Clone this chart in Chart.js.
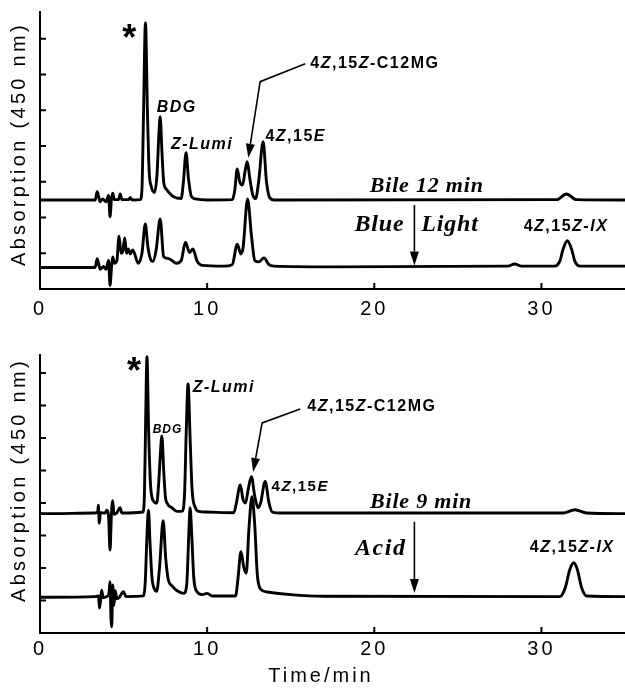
<!doctype html>
<html>

<head>
  <title>Bile HPLC chromatograms</title>
  <script src="https://cdn.jsdelivr.net/npm/chart.js@4.4.0/dist/chart.umd.min.js"></script>
  <style>
    body {
      margin: 0;
      background: #fff;
    }
    canvas {
      position: absolute;
      left: 0;
    }
  </style>
</head>

<body>
  <canvas id="topChart" width="625" height="330" style="top:0"></canvas>
  <canvas id="bottomChart" width="625" height="358" style="top:330px"></canvas>

  <script>
    // retention time (min), absorption (arb. units)
    var bile12 = [
      [0, 2.49], [3.3, 2.49], [3.42, 2.72], [3.5, 2.6], [3.6, 2.44], [3.75, 2.52], [3.95, 2.44],
      [4.1, 2.62], [4.19, 2.02], [4.27, 2.5], [4.35, 2.68], [4.45, 2.5], [4.7, 2.5], [4.8, 2.66],
      [4.9, 2.5], [5.3, 2.5], [5.4, 2.56], [5.5, 2.49], [6.0, 2.5], [6.1, 2.8], [6.19, 4.8],
      [6.31, 7.45], [6.43, 4.9], [6.53, 3.3], [6.65, 2.88], [6.85, 2.7], [7.0, 3.2], [7.1, 4.2],
      [7.19, 4.82], [7.29, 3.9], [7.4, 3.0], [7.58, 2.78], [7.8, 2.66], [8.0, 2.58], [8.45, 2.53],
      [8.58, 3.0], [8.74, 3.81], [8.88, 3.1], [9.05, 2.6], [9.3, 2.52], [10.0, 2.49], [11.5, 2.5],
      [11.65, 2.75], [11.8, 3.36], [11.95, 3.0], [12.12, 2.91], [12.27, 3.3], [12.4, 3.56],
      [12.55, 3.1], [12.72, 2.65], [12.9, 2.53], [13.08, 3.0], [13.35, 4.12], [13.55, 3.0],
      [13.75, 2.55], [14.0, 2.49], [30.9, 2.5], [31.5, 2.66], [32.1, 2.5], [35, 2.49]
    ];
    var blueLight = [
      [0, 0.6], [3.3, 0.6], [3.42, 0.85], [3.5, 0.72], [3.6, 0.55], [3.8, 0.63], [3.95, 0.55],
      [4.1, 0.8], [4.19, 0.1], [4.28, 0.62], [4.35, 0.9], [4.45, 0.72], [4.6, 0.8], [4.73, 1.48],
      [4.85, 1.0], [4.95, 1.05], [5.07, 1.43], [5.18, 1.0], [5.28, 1.12], [5.4, 0.98], [5.55, 1.09],
      [5.88, 0.72], [6.1, 1.0], [6.3, 1.82], [6.45, 1.2], [6.6, 0.85], [6.75, 0.77], [6.95, 1.1],
      [7.19, 1.96], [7.4, 0.9], [7.7, 0.85], [8.15, 0.72], [8.45, 0.8], [8.7, 1.31], [8.95, 1.02],
      [9.15, 1.12], [9.4, 0.78], [9.7, 0.66], [11.0, 0.64], [11.5, 0.68], [11.8, 1.25],
      [12.02, 0.98], [12.15, 1.15], [12.42, 2.52], [12.65, 1.5], [12.85, 0.8], [13.1, 0.76],
      [13.4, 0.87], [13.7, 0.68], [14.0, 0.64], [17.5, 0.62], [28.0, 0.64], [28.4, 0.7],
      [28.8, 0.64], [30.8, 0.64], [31.1, 0.78], [31.3, 1.12], [31.55, 1.35], [31.8, 1.12],
      [32.0, 0.78], [32.3, 0.64], [35, 0.64]
    ];
    var bile9 = [
      [0, 3.67], [3.3, 3.69], [3.45, 3.72], [3.49, 3.93], [3.55, 3.38], [3.62, 3.7], [3.9, 3.69],
      [4.0, 3.78], [4.1, 3.62], [4.19, 2.55], [4.27, 3.6], [4.35, 4.07], [4.43, 3.65], [4.6, 3.7],
      [4.79, 3.85], [4.9, 3.69], [6.15, 3.72], [6.25, 4.3], [6.32, 6.5], [6.4, 8.5], [6.5, 6.2],
      [6.62, 4.5], [6.8, 4.05], [6.98, 3.99], [7.1, 4.6], [7.2, 5.5], [7.29, 6.06], [7.4, 5.0],
      [7.5, 4.2], [7.62, 3.98], [7.9, 3.85], [8.2, 3.74], [8.5, 3.75], [8.65, 4.3], [8.75, 6.2],
      [8.86, 7.66], [8.98, 6.0], [9.1, 4.4], [9.3, 3.85], [9.5, 3.74], [10.0, 3.72], [11.6, 3.7],
      [11.75, 4.0], [11.98, 4.55], [12.15, 4.1], [12.3, 4.0], [12.45, 4.4], [12.65, 4.81],
      [12.85, 4.2], [13.05, 3.85], [13.2, 4.0], [13.47, 4.66], [13.7, 4.0], [13.9, 3.72],
      [14.5, 3.69], [31.3, 3.69], [32.0, 3.79], [32.7, 3.69], [35, 3.67]
    ];
    var acid = [
      [0, 1.1], [3.3, 1.12], [3.5, 1.14], [3.56, 0.77], [3.62, 1.0], [3.69, 1.32], [3.78, 1.08],
      [4.0, 1.12], [4.12, 1.2], [4.19, 1.58], [4.25, 0.4], [4.29, 0.19], [4.35, 1.48], [4.42, 0.85],
      [4.5, 1.3], [4.6, 1.05], [4.75, 1.1], [4.99, 1.27], [5.15, 1.12], [6.2, 1.14], [6.3, 1.6],
      [6.4, 3.0], [6.49, 3.78], [6.58, 2.8], [6.7, 1.7], [6.85, 1.35], [6.98, 1.28], [7.15, 2.0],
      [7.37, 3.45], [7.52, 2.3], [7.68, 1.63], [7.9, 1.45], [8.2, 1.3], [8.6, 1.22], [8.78, 1.5],
      [8.9, 3.0], [8.98, 3.85], [9.08, 3.0], [9.2, 1.7], [9.38, 1.28], [9.7, 1.18], [10.0, 1.22],
      [10.3, 1.14], [11.7, 1.14], [11.85, 1.7], [12.02, 2.5], [12.2, 2.0], [12.34, 1.84],
      [12.5, 3.2], [12.68, 4.19], [12.85, 3.3], [13.0, 1.8], [13.2, 1.35], [13.6, 1.26],
      [15.0, 1.18], [17.0, 1.13], [31.1, 1.12], [31.4, 1.35], [31.7, 1.95], [31.93, 2.16],
      [32.15, 1.95], [32.4, 1.4], [32.7, 1.14], [35, 1.12]
    ];

    var timeTicks = [0, 10, 20, 30];
    var absTicksTop = [1, 2, 3, 4, 5, 6, 7];
    var absTicksBottom = [1, 2, 3, 4, 5, 6, 7, 8];

    var SANS = '"Liberation Sans", Arial, sans-serif';
    var SERIF = '"Liberation Serif", "Times New Roman", serif';

    // peak labels: parts are [text, italic]
    var topLabels = [
      { parts: [['*', 0]], x: 5.39, y: 6.97, size: 36, family: SANS },
      { parts: [['BDG', 1]], x: 8.18, y: 5.08, size: 16, family: SANS },
      { parts: [['Z-Lumi', 1]], x: 9.7, y: 4.03, size: 16, family: SANS },
      { parts: [['4', 0], ['Z', 1], [',15', 0], ['E', 1]], x: 15.3, y: 4.26, size: 16, family: SANS },
      { parts: [['4', 0], ['Z', 1], [',15', 0], ['Z', 1], ['-C12MG', 0]], x: 16.17, y: 6.3, size: 16, family: SANS, align: 'left' },
      { parts: [['Bile 12 min', 1]], x: 23.14, y: 2.86, size: 22, family: SERIF, spacing: 0.8 },
      { parts: [['Blue', 1]], x: 21.8, y: 1.79, size: 24, family: SERIF, align: 'right', spacing: 0.8 },
      { parts: [['Light', 1]], x: 22.81, y: 1.79, size: 24, family: SERIF, align: 'left', spacing: 0.8 },
      { parts: [['4', 0], ['Z', 1], [',15', 0], ['Z', 1], ['-', 0], ['IX', 1]], x: 31.47, y: 1.74, size: 16, family: SANS }
    ];
    var topArrows = [
      [[15.87, 6.3], [13.17, 5.8], [12.46, 3.67]],
      [[22.4, 2.35], [22.4, 0.66]]
    ];
    var bottomLabels = [
      { parts: [['*', 0]], x: 5.67, y: 8.0, size: 36, family: SANS },
      { parts: [['BDG', 1]], x: 7.63, y: 6.25, size: 12, family: SANS, spacing: 1 },
      { parts: [['Z-Lumi', 1]], x: 11.0, y: 7.54, size: 16, family: SANS },
      { parts: [['4', 0], ['Z', 1], [',15', 0], ['E', 1]], x: 15.57, y: 4.48, size: 15, family: SANS },
      { parts: [['4', 0], ['Z', 1], [',15', 0], ['Z', 1], ['-C12MG', 0]], x: 15.99, y: 6.95, size: 16, family: SANS, align: 'left' },
      { parts: [['Bile 9 min', 1]], x: 22.8, y: 4.03, size: 22, family: SERIF, spacing: 0.8 },
      { parts: [['Acid', 1]], x: 21.92, y: 2.58, size: 24, family: SERIF, align: 'right', spacing: 1.5 },
      { parts: [['4', 0], ['Z', 1], [',15', 0], ['Z', 1], ['-', 0], ['IX', 1]], x: 31.84, y: 2.63, size: 16, family: SANS }
    ];
    var bottomArrows = [
      [[15.57, 6.89], [13.29, 6.46], [12.75, 4.95]],
      [[22.4, 3.42], [22.4, 1.23]]
    ];

    function drawRich(ctx, note, px, py) {
      var spacing = note.spacing != null ? note.spacing : 1.5;
      var widths = note.parts.map(function(p) {
        ctx.font = 'bold ' + (p[1] ? 'italic ' : '') + note.size + 'px ' + note.family;
        ctx.letterSpacing = spacing + 'px';
        return ctx.measureText(p[0]).width;
      });
      var total = widths.reduce(function(a, b) { return a + b; }, 0);
      var x = px - total / 2;
      if (note.align === 'left') x = px;
      if (note.align === 'right') x = px - total;
      ctx.textAlign = 'left';
      ctx.textBaseline = 'middle';
      note.parts.forEach(function(p, i) {
        ctx.font = 'bold ' + (p[1] ? 'italic ' : '') + note.size + 'px ' + note.family;
        ctx.letterSpacing = spacing + 'px';
        ctx.fillText(p[0], x, py);
        x += widths[i];
      });
    }

    function drawArrow(ctx, pts) {
      var n = pts.length;
      var tip = pts[n - 1], prev = pts[n - 2];
      var ang = Math.atan2(tip[1] - prev[1], tip[0] - prev[0]);
      var len = 14, half = 4.5;
      var bx = tip[0] - len * Math.cos(ang), by = tip[1] - len * Math.sin(ang);
      ctx.lineWidth = 1.6;
      ctx.beginPath();
      ctx.moveTo(pts[0][0], pts[0][1]);
      for (var i = 1; i < n - 1; i++) ctx.lineTo(pts[i][0], pts[i][1]);
      ctx.lineTo(bx, by);
      ctx.stroke();
      ctx.beginPath();
      ctx.moveTo(tip[0], tip[1]);
      ctx.lineTo(bx + half * Math.sin(ang), by - half * Math.cos(ang));
      ctx.lineTo(bx - half * Math.sin(ang), by + half * Math.cos(ang));
      ctx.closePath();
      ctx.fill();
    }

    var axisText = {
      id: 'axisText',
      beforeDraw: function(chart) {
        chart.ctx.letterSpacing = '3px';
      }
    };

    var inwardTicks = {
      id: 'inwardTicks',
      afterDraw: function(chart) {
        var ctx = chart.ctx, x = chart.scales.x, y = chart.scales.y, area = chart.chartArea;
        ctx.save();
        ctx.strokeStyle = '#000';
        ctx.lineWidth = 2;
        ctx.beginPath();
        x.ticks.forEach(function(t) {
          if (t.value <= 0) return;
          var px = x.getPixelForValue(t.value);
          ctx.moveTo(px, area.bottom);
          ctx.lineTo(px, area.bottom - 6);
        });
        y.ticks.forEach(function(t) {
          var py = y.getPixelForValue(t.value);
          ctx.moveTo(area.left, py);
          ctx.lineTo(area.left + 6, py);
        });
        ctx.stroke();
        ctx.restore();
      }
    };

    var notes = {
      id: 'notes',
      afterDraw: function(chart, args, opts) {
        var ctx = chart.ctx, x = chart.scales.x, y = chart.scales.y;
        ctx.save();
        ctx.fillStyle = '#000';
        ctx.strokeStyle = '#000';
        (opts.arrows || []).forEach(function(a) {
          drawArrow(ctx, a.map(function(p) { return [x.getPixelForValue(p[0]), y.getPixelForValue(p[1])]; }));
        });
        (opts.labels || []).forEach(function(n) {
          drawRich(ctx, n, x.getPixelForValue(n.x), y.getPixelForValue(n.y));
        });
        // axis titles
        ctx.font = '20px ' + SANS;
        ctx.letterSpacing = '3.3px';
        ctx.textAlign = 'center';
        ctx.textBaseline = 'middle';
        if (opts.yTitle) {
          ctx.save();
          ctx.translate(19, opts.yTitle.cy);
          ctx.rotate(-Math.PI / 2);
          ctx.fillText(opts.yTitle.text, 0, 0);
          ctx.restore();
        }
        if (opts.xTitle) {
          ctx.letterSpacing = '3px';
          ctx.textBaseline = 'alphabetic';
          ctx.fillText(opts.xTitle.text, opts.xTitle.cx, opts.xTitle.base);
        }
        ctx.restore();
      }
    };

    function trace(points) {
      return points.map(function(p) { return { x: p[0], y: p[1] }; });
    }

    function makeConfig(traces, yMax, yTicks, xHeight, padTop, tickPad, noteOpts) {
      return {
        type: 'line',
        data: {
          datasets: traces.map(function(t) {
            return {
              data: trace(t),
              borderColor: '#000',
              borderWidth: 2.9,
              pointRadius: 0,
              cubicInterpolationMode: 'monotone',
              fill: false
            };
          })
        },
        options: {
          responsive: false,
          animation: false,
          layout: { padding: { top: padTop, left: 0, right: 0, bottom: 0 } },
          scales: {
            x: {
              type: 'linear',
              min: 0,
              max: 35,
              afterBuildTicks: function(scale) {
                scale.ticks = timeTicks.map(function(v) { return { value: v }; });
              },
              afterFit: function(scale) { scale.height = xHeight; },
              grid: { display: false, drawTicks: false },
              border: { display: true, color: '#000', width: 2 },
              ticks: { color: '#000', padding: tickPad, maxRotation: 0, font: { family: SANS, size: 20 } }
            },
            y: {
              min: 0,
              max: yMax,
              afterBuildTicks: function(scale) {
                scale.ticks = yTicks.map(function(v) { return { value: v }; });
              },
              afterFit: function(scale) { scale.width = 40; },
              grid: { display: false, drawTicks: false },
              border: { display: true, color: '#000', width: 2 },
              ticks: { display: false }
            }
          },
          plugins: {
            legend: { display: false },
            tooltip: { enabled: false },
            notes: noteOpts
          }
        },
        plugins: [axisText, inwardTicks, notes]
      };
    }

    new Chart(document.getElementById('topChart'), makeConfig(
      [bile12, blueLight], 7.75, absTicksTop, 41, 12, 8,
      { labels: topLabels, arrows: topArrows, yTitle: { text: 'Absorption (450 nm)', cy: 144 } }
    ));

    new Chart(document.getElementById('bottomChart'), makeConfig(
      [bile9, acid], 8.55, absTicksBottom, 55, 25, 4,
      { labels: bottomLabels, arrows: bottomArrows,
        yTitle: { text: 'Absorption (450 nm)', cy: 150 },
        xTitle: { text: 'Time/min', cx: 321, base: 352 } }
    ));
  </script>
</body>

</html>
